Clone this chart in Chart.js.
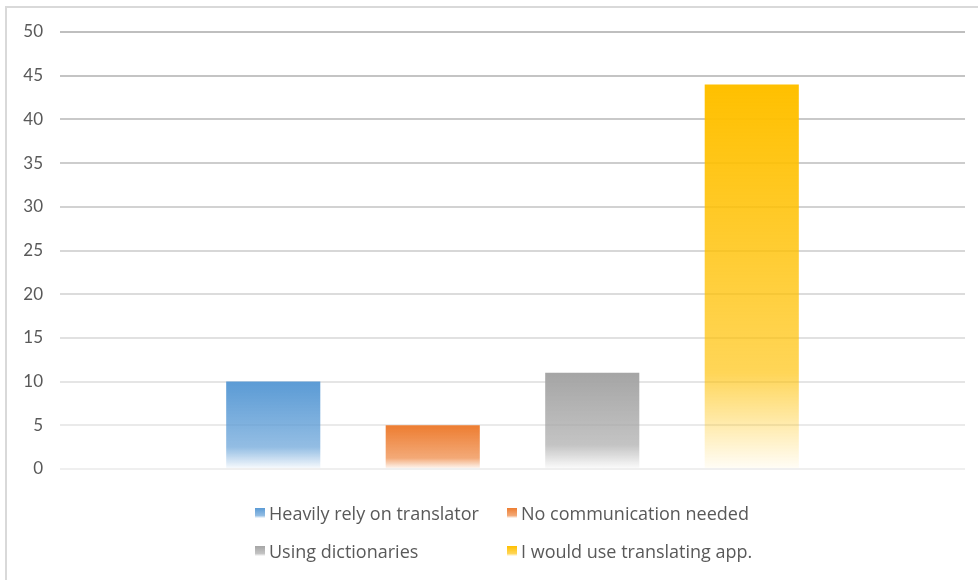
<!DOCTYPE html>
<html>
<head>
<meta charset="utf-8">
<script src="https://cdn.jsdelivr.net/npm/chart.js@4.4.1/dist/chart.umd.min.js"></script>
<style>
    html, body { margin: 0; padding: 0; background: #fff; }
    #wrap { position: relative; width: 978px; height: 580px; }
    #frame {
        position: absolute; left: 5px; top: 6px; right: 0; bottom: 0;
        border-left: 2px solid #d9d9d9; border-top: 2px solid #d9d9d9;
        pointer-events: none;
    }
    canvas { position: absolute; left: 0; top: 0; }
</style>
</head>
<body>
<div id="wrap">
    <canvas id="surveyChart" width="978" height="580"></canvas>
    <div id="frame"></div>
</div>
<script>
// Survey answers
var seriesNames = ['Heavily rely on translator', 'No communication needed', 'Using dictionaries', 'I would use translating app.'];
var seriesValues = [10, 5, 11, 44];
var seriesColors = ['#5b9bd5', '#ed7d31', '#a5a5a5', '#ffc000'];
var yTicks = [0, 5, 10, 15, 20, 25, 30, 35, 40, 45, 50];

var FONT = 'Lato, "Open Sans", sans-serif';
var LEGEND_FONT = '"Open Sans", Lato, sans-serif';
var TEXT = '#595959';

function rgba(hex, a) {
    var n = parseInt(hex.slice(1), 16);
    return 'rgba(' + (n >> 16) + ',' + ((n >> 8) & 255) + ',' + (n & 255) + ',' + a + ')';
}

function fadeFill(ctx2d, hex, top, bottom) {
    var g = ctx2d.createLinearGradient(0, top, 0, bottom);
    g.addColorStop(0, rgba(hex, 1));
    g.addColorStop(0.75, rgba(hex, 0.66));
    g.addColorStop(1, rgba(hex, 0.03));
    return g;
}

// two-column legend under the plot, like the office-style chart
var gridLegend = {
    id: 'gridLegend',
    afterDraw: function(chart) {
        var c = chart.ctx;
        var x0 = 255, colW = 252, rowY = [513, 551];
        c.save();
        c.font = '18px ' + LEGEND_FONT;
        c.textBaseline = 'middle';
        chart.data.datasets.forEach(function(ds, i) {
            var x = x0 + (i % 2) * colW;
            var y = rowY[Math.floor(i / 2)];
            c.fillStyle = fadeFill(c, seriesColors[i], y - 5, y + 5);
            c.fillRect(x, y - 5, 10, 10);
            c.fillStyle = TEXT;
            c.fillText(ds.label, x + 14, y + 2);
        });
        c.restore();
    }
};

var datasets = seriesNames.map(function(name, i) {
    return {
        label: name,
        data: [seriesValues[i]],
        backgroundColor: function(context) {
            var chart = context.chart;
            if (!chart.chartArea) return seriesColors[i];
            var y = chart.scales.y;
            return fadeFill(chart.ctx, seriesColors[i], y.getPixelForValue(context.raw), y.getPixelForValue(0));
        },
        borderWidth: 0,
        categoryPercentage: 0.705,
        barPercentage: 0.59
    };
});

new Chart(document.getElementById('surveyChart').getContext('2d'), {
    type: 'bar',
    data: { labels: [''], datasets: datasets },
    plugins: [gridLegend],
    options: {
        responsive: false,
        animation: false,
        layout: { padding: { left: 0, right: 13, top: 32, bottom: 111 } },
        plugins: { legend: { display: false }, tooltip: { enabled: false } },
        scales: {
            x: { display: false },
            y: {
                min: 0, max: 50,
                afterBuildTicks: function(scale) {
                    scale.ticks = yTicks.map(function(v) { return { value: v }; });
                },
                afterFit: function(scale) { scale.width = 60; },
                border: { display: false },
                grid: {
                    drawTicks: false,
                    lineWidth: 2,
                    color: function(ctx) {
                        var v = ctx.tick ? ctx.tick.value : 0;
                        var l = Math.round(0xef - (0xef - 0xbf) * v / 50);
                        return 'rgb(' + l + ',' + l + ',' + l + ')';
                    }
                },
                ticks: { padding: 17, color: TEXT, font: { family: FONT, size: 17 } }
            }
        }
    }
});
</script>
</body>
</html>
